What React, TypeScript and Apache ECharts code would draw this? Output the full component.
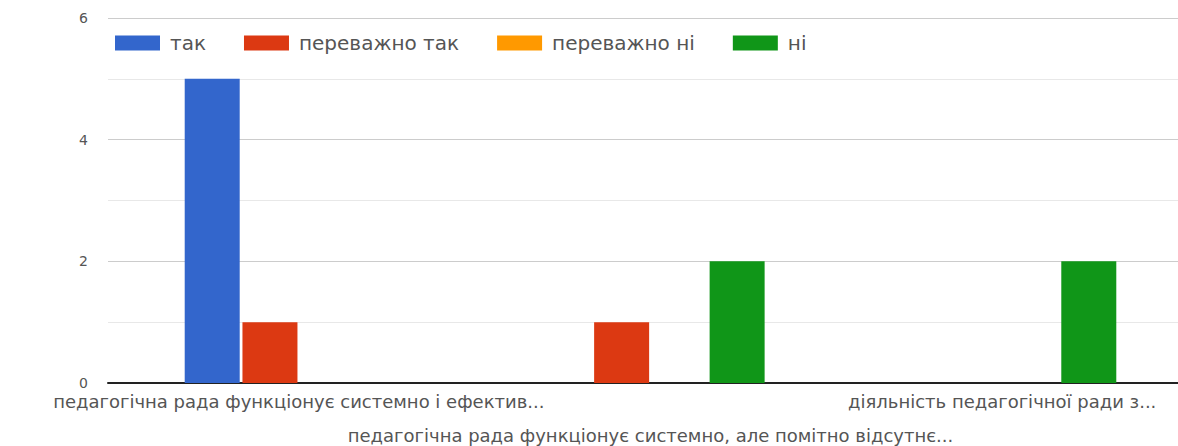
import React, { useEffect, useRef } from "react";
import * as echarts from "echarts";

const categories = [
  "педагогічна рада функціонує системно і ефектив...",
  "педагогічна рада функціонує системно, але помітно відсутнє...",
  "діяльність педагогічної ради з...",
];
const seriesNames = ["так", "переважно так", "переважно ні", "ні"];
const tak = [5, 0, 0];
const perevazhnoTak = [1, 1, 0];
const perevazhnoNi = [0, 0, 0];
const ni = [0, 2, 2];
const yTicks = { min: 0, max: 6, interval: 2 };
const colors = ["#3366cc", "#dc3912", "#ff9900", "#109618"];

export default function App() {
  const ref = useRef<HTMLDivElement>(null);
  useEffect(() => {
    if (!ref.current) return;
    const chart = echarts.init(ref.current, null, { renderer: "svg" });
    const values = [tak, perevazhnoTak, perevazhnoNi, ni];
    const font = "DejaVu Sans";
    chart.setOption({
      animation: false,
      backgroundColor: "#ffffff",
      color: colors,
      legend: {
        left: 115,
        top: 33,
        padding: 0,
        itemWidth: 45,
        itemHeight: 15,
        itemGap: 38,
        icon: "rect",
        textStyle: { color: "#555", fontSize: 20, fontFamily: font, padding: [0, 0, 0, 5] },
        data: seriesNames,
      },
      grid: [
        { left: 108, right: -9, top: 18, bottom: 63, containLabel: false },
        { left: 123, right: -9, top: 18, bottom: 63, containLabel: false },
      ],
      xAxis: [
        {
          gridIndex: 0,
          type: "category",
          data: categories,
          axisLine: { show: true, lineStyle: { color: "#222", width: 2 } },
          axisTick: { show: false },
          axisLabel: { show: false },
        },
        {
          gridIndex: 1,
          type: "category",
          data: categories,
          axisLine: { show: false },
          axisTick: { show: false },
          axisLabel: {
            interval: 0,
            margin: 10,
            color: "#555",
            fontSize: 18,
            fontFamily: font,
            lineHeight: 17,
            formatter: (v: string, i: number) => (i % 2 === 1 ? "\n\n" + v : v),
          },
        },
      ],
      yAxis: [
        {
          gridIndex: 0,
          type: "value",
          ...yTicks,
          axisLine: { show: false },
          axisTick: { show: false },
          axisLabel: { color: "#555", fontSize: 14, fontFamily: font, margin: 20 },
          splitLine: { lineStyle: { color: "#cccccc", width: 1 } },
          minorTick: { show: false, splitNumber: 2 },
          minorSplitLine: { show: true, lineStyle: { color: "#e8e8e8", width: 1 } },
        },
        {
          gridIndex: 1,
          type: "value",
          ...yTicks,
          axisLine: { show: false },
          axisTick: { show: false },
          axisLabel: { show: false },
          splitLine: { show: false },
        },
      ],
      series: seriesNames.map((name, k) => ({
        name,
        type: "bar",
        xAxisIndex: 1,
        yAxisIndex: 1,
        data: values[k],
        barWidth: 55,
        barGap: "5%",
        itemStyle: { color: colors[k] },
      })),
    });
    return () => chart.dispose();
  }, []);
  return (
    <div
      ref={ref}
      style={{ position: "fixed", left: 0, top: 0, width: 1178, height: 446 }}
    />
  );
}
